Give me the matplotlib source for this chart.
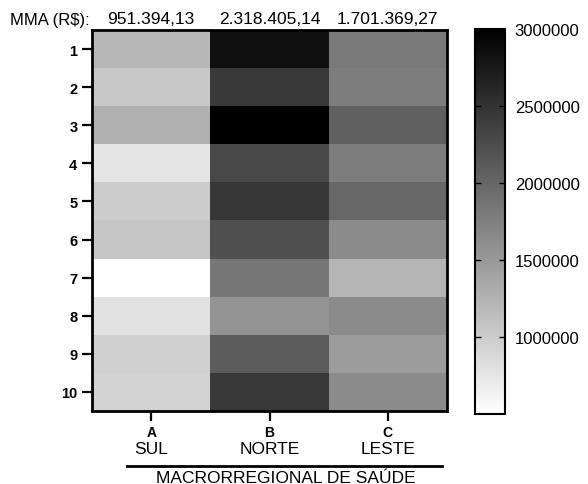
import numpy as np
import matplotlib.pyplot as plt
import matplotlib.transforms as mtransforms
from matplotlib.colors import LinearSegmentedColormap

# ---------------- dados ----------------
linhas = ['1', '2', '3', '4', '5', '6', '7', '8', '9', '10']
colunas = ['A', 'B', 'C']
regioes = ['SUL', 'NORTE', 'LESTE']
mma_labels = ['951.394,13', '2.318.405,14', '1.701.369,27']

sul = [1195400, 1039000, 1274500, 764700, 1000000, 1058800, 505000, 794100, 960800, 921600]
norte = [2843100, 2431400, 3000000, 2294100, 2460800, 2213500, 1833300, 1558800, 2098000, 2451000]
leste = [1813700, 1774500, 2052800, 1774500, 1990200, 1637300, 1225500, 1637300, 1470600, 1637300]

cbar_ticks = [1000000, 1500000, 2000000, 2500000, 3000000]

plt.rcParams['font.family'] = ['Liberation Sans', 'DejaVu Sans']

W, H = 588, 485
fig = plt.figure(figsize=(W / 100, H / 100), dpi=100)


def fy(py):
    # pixel (de cima para baixo) -> fração da figura
    return 1 - py / H


# heatmap
ax = fig.add_axes([92 / W, fy(412), 355 / W, 381 / H])
dados = np.array([sul, norte, leste]).T
cmap = LinearSegmentedColormap.from_list('branco_preto', ['white', 'black'])
im = ax.imshow(dados, cmap=cmap, vmin=500000, vmax=3000000, aspect='auto',
               interpolation='nearest')

ax.set_yticks(range(len(linhas)))
ax.set_yticklabels(linhas, fontsize=10.5, fontweight='bold')
ax.set_xticks(range(len(colunas)))
ax.set_xticklabels([])
ax.tick_params(axis='both', direction='out', length=7, width=1.6, pad=3.5)
for s in ax.spines.values():
    s.set_linewidth(2)

trans = mtransforms.blended_transform_factory(ax.transData, fig.transFigure)

# rótulos do eixo x (letra em negrito + nome da região)
for i, (c, r) in enumerate(zip(colunas, regioes)):
    ax.text(i, fy(433), c, transform=trans, ha='center', va='center',
            fontsize=10, fontweight='bold')
    ax.text(i, fy(449.5), r, transform=trans, ha='center', va='center', fontsize=12.5)

# linha e título abaixo
fig.add_artist(plt.Line2D([127 / W, 442 / W], [fy(467), fy(467)], color='black', lw=2))
fig.text(286 / W, fy(479), 'MACRORREGIONAL DE SAÚDE', ha='center', va='center',
         fontsize=12.5)

# médias no topo
fig.text(10 / W, fy(20), 'MMA (R$):', ha='left', va='center', fontsize=12)
for i, lab in enumerate(mma_labels):
    ax.text(i, fy(20), lab, transform=trans, ha='center', va='center', fontsize=12.5)

# barra de cores
cax = fig.add_axes([475 / W, fy(415), 30 / W, 385 / H])
cb = fig.colorbar(im, cax=cax, ticks=cbar_ticks)
cb.ax.set_yticklabels([str(t) for t in cbar_ticks], fontsize=12)
cb.ax.tick_params(direction='in', left=True, right=True, length=4, width=1, pad=7)
cb.outline.set_linewidth(1.5)

fig.savefig('out.png', dpi=100)
